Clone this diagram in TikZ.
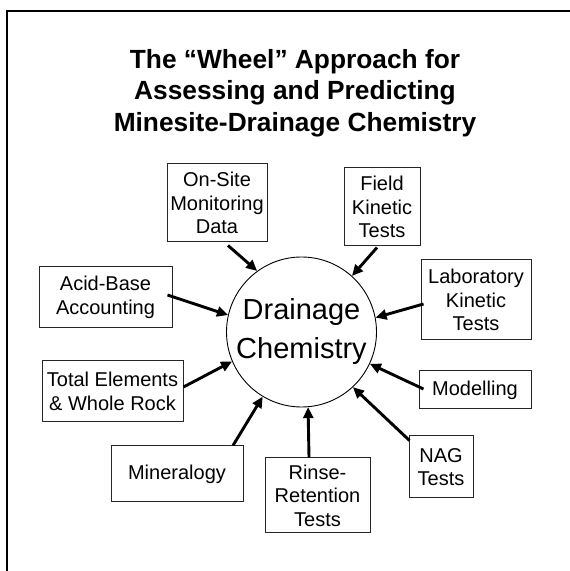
\documentclass[tikz,border=0pt]{standalone}
\usepackage{fontspec}
\setmainfont{Liberation Sans}
\usetikzlibrary{arrows.meta}
\begin{document}
\begin{tikzpicture}[x=1pt,y=1pt,
  box/.style={draw=black!85, line width=1pt, inner sep=0pt, align=center,
    font=\fontsize{20}{23.5}\selectfont},
  arr/.style={line width=2.9pt, -{Triangle[length=11pt,width=10pt]}},
  frame/.style={line width=2.2pt}]
\useasboundingbox (0,0) rectangle (570,571);
\draw[frame] (570,560) -- (7,560) -- (7,0);
\node[align=center, font=\bfseries\fontsize{26.3}{31.3}\selectfont] (title) at (295,478)
  {The “Wheel” Approach for\\Assessing and Predicting\\Minesite-Drainage Chemistry};
\node[draw, circle, line width=0.9pt, minimum size=150pt, inner sep=0pt, align=center,
  font=\fontsize{29}{39}\selectfont] (dc) at (301.5,239) {Drainage\\Chemistry};
\node[box, minimum width=100pt, minimum height=78pt] (onsite) at (217,368) {On-Site\\Monitoring\\Data};
\node[box, minimum width=76pt, minimum height=78pt] (field) at (382,364) {Field\\Kinetic\\Tests};
\node[box, minimum width=110pt, minimum height=80pt] (lab) at (476,271) {Laboratory\\Kinetic\\Tests};
\node[box, minimum width=133pt, minimum height=61pt] (acid) at (105.5,273.5) {Acid-Base\\Accounting};
\node[box, minimum width=141pt, minimum height=61pt] (total) at (112.5,179.5) {Total Elements\\\& Whole Rock};
\node[box, minimum width=112pt, minimum height=38pt] (model) at (475,181) {Modelling};
\node[box, minimum width=132pt, minimum height=56pt] (mineral) at (177,97) {Mineralogy};
\node[box, minimum width=105pt, minimum height=75pt] (rinse) at (317.5,75.5) {Rinse-\\Retention\\Tests};
\node[box, minimum width=64pt, minimum height=62pt] (nag) at (441,104) {NAG\\Tests};
\draw[arr] ([shift={(11,-3)}]onsite.south) -- (dc.126.9);
\draw[arr] ([shift={(-5,-1)}]field.south) -- (dc.48.5);
\draw[arr] ([shift={(3,-4)}]lab.west) -- (dc.11.7);
\draw[arr] ([shift={(-5,2.5)}]acid.east) -- (dc.167.1);
\draw[arr] ([shift={(0,4.5)}]total.east) -- (dc.203.4);
\draw[arr] ([shift={(56,0)}]mineral.north) -- (dc.239.1);
\draw[arr] ([shift={(-8.5,0)}]rinse.north) -- (dc.275.7);
\draw[arr] ([shift={(1,-5)}]nag.north west) -- (dc.313.2);
\draw[arr] ([shift={(5,1)}]model.west) -- (dc.335.7);
\end{tikzpicture}
\end{document}
